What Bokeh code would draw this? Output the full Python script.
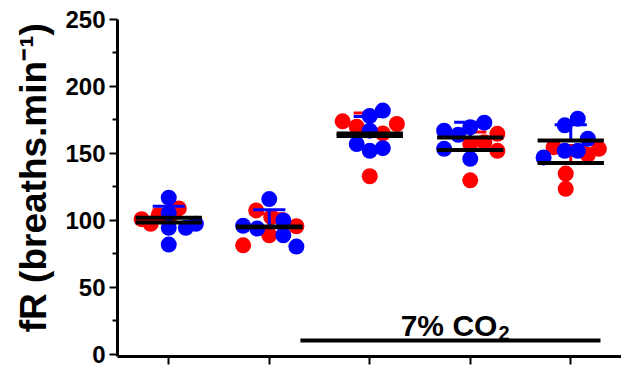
from bokeh.plotting import figure
from bokeh.models import Range1d, FixedTicker, Label, CustomJSTickFormatter
from bokeh.embed import file_html
from bokeh.resources import INLINE

# ---- data ----
groups = [1, 2, 3, 4, 5]
y_ticks = [0, 50, 100, 150, 200, 250]
y_minor = [25, 75, 125, 175, 225]

red_vals = [
    [101, 97.5, 104, 109, 100],
    [107.5, 89, 95.7, 81.5, 102.5],
    [174, 170, 172, 165, 133],
    [164.7, 157, 158.4, 152, 130],
    [154.7, 149, 153.5, 135, 123.6],
]
red_jitter = [
    [-0.27, -0.18, -0.1, 0.1, 0.0],
    [-0.13, 0.0, 0.27, -0.26, 0.02],
    [-0.27, -0.13, 0.27, 0.13, 0.0],
    [0.27, 0.0, 0.14, 0.27, 0.0],
    [-0.17, 0.17, 0.28, -0.05, -0.05],
]
blue_vals = [
    [117, 105.5, 94.5, 82, 94.5, 97.5],
    [116, 96, 94, 100, 89, 80.5],
    [182, 178, 167, 157, 152, 154],
    [173, 169.6, 167, 164, 153.5, 146],
    [176, 171, 161, 152, 152, 147],
]
blue_jitter = [
    [0.0, 0.0, 0.0, 0.0, 0.17, 0.27],
    [0.0, -0.26, -0.12, 0.14, 0.14, 0.27],
    [0.13, 0.0, 0.0, -0.13, 0.0, 0.13],
    [0.14, 0.0, -0.26, -0.12, -0.26, 0.0],
    [0.07, -0.06, 0.17, -0.06, 0.07, -0.27],
]
red_mean = [102, 95, 163, 152.7, 143]
red_sd = [6, 10, 17.3, 13.3, 13]
blue_mean = [98.5, 95.5, 165, 162, 159.7]
blue_sd = [12.2, 12.5, 12.6, 11.4, 11.7]

co2_start, co2_end, co2_y = 2.31, 5.296, 10.4
co2_label = "7% CO"
co2_sub = "2"
y_label = "fR (breaths.min\u207b\u00b9)"

RED = "#FF0000"
BLUE = "#0000FF"
FONT = "Liberation Sans"

p = figure(width=621, height=371, output_backend="svg", toolbar_location=None,
           x_range=Range1d(0.49, 5.505), y_range=Range1d(-1.5, 250),
           min_border_left=117, min_border_right=0, min_border_top=19,
           min_border_bottom=15)
p.outline_line_color = None
p.xgrid.visible = False
p.ygrid.visible = False
p.background_fill_color = "white"
p.border_fill_color = "white"


def pts(vals, jit):
    xs, ys = [], []
    for g, v, j in zip(groups, vals, jit):
        for a, b in zip(v, j):
            xs.append(g + b)
            ys.append(a)
    return xs, ys


def err(mean, sd, color):
    x = groups
    hi = [m + s for m, s in zip(mean, sd)]
    p.segment(x0=x, y0=mean, x1=x, y1=hi, line_color=color, line_width=3)
    cw = 0.16
    p.segment(x0=[g - cw for g in x], y0=hi, x1=[g + cw for g in x], y1=hi,
              line_color=color, line_width=3)


rx, ry = pts(red_vals, red_jitter)
bx, by = pts(blue_vals, blue_jitter)

p.scatter(rx, ry, size=16, fill_color=RED, line_color=RED, line_width=0)
err(red_mean, red_sd, RED)
p.scatter(bx, by, size=16, fill_color=BLUE, line_color=BLUE, line_width=0)
err(blue_mean, blue_sd, BLUE)

mw = 0.33
for means in (red_mean, blue_mean):
    p.segment(x0=[g - mw for g in groups], y0=means, x1=[g + mw for g in groups],
              y1=means, line_color="black", line_width=4)

# 7% CO2 bar
p.segment(x0=[co2_start], y0=[co2_y], x1=[co2_end], y1=[co2_y],
          line_color="black", line_width=4)
p.add_layout(Label(x=4.27, y=21.6, text=co2_label, text_align="right",
                   text_baseline="alphabetic", text_font=FONT,
                   text_font_style="bold", text_font_size="30px",
                   text_color="black"))
p.add_layout(Label(x=4.28, y=16.4, text=co2_sub, text_align="left",
                   text_baseline="alphabetic", text_font=FONT,
                   text_font_style="bold", text_font_size="20px",
                   text_color="black"))

# y axis
ya = p.yaxis[0]
ya.ticker = FixedTicker(ticks=y_ticks, minor_ticks=y_minor)
ya.axis_line_width = 3
ya.major_tick_line_width = 2
ya.minor_tick_line_width = 2
ya.major_tick_out = 8
ya.major_tick_in = 0
ya.minor_tick_out = 5
ya.minor_tick_in = 0
ya.major_label_standoff = 4
ya.major_label_text_font = FONT
ya.major_label_text_font_style = "bold"
ya.major_label_text_font_size = "24px"
ya.major_label_text_color = "black"
# two no-break spaces lift the visible title slightly, as in the reference
ya.axis_label = "\u00a0\u00a0" + y_label
ya.axis_label_text_font = FONT
ya.axis_label_text_font_style = "bold"
ya.axis_label_text_font_size = "37px"
ya.axis_label_text_color = "black"
ya.axis_label_standoff = 8

# x axis (ticks only, no labels)
xa = p.xaxis[0]
xa.ticker = FixedTicker(ticks=groups, minor_ticks=[])
xa.formatter = CustomJSTickFormatter(code="return '';")
xa.axis_line_width = 3
xa.major_tick_line_width = 2
xa.major_tick_out = 8
xa.major_tick_in = 0
xa.minor_tick_out = 0
xa.major_label_text_font_size = "1px"
xa.major_label_standoff = 0

open("out.html", "w").write(file_html(p, INLINE))
